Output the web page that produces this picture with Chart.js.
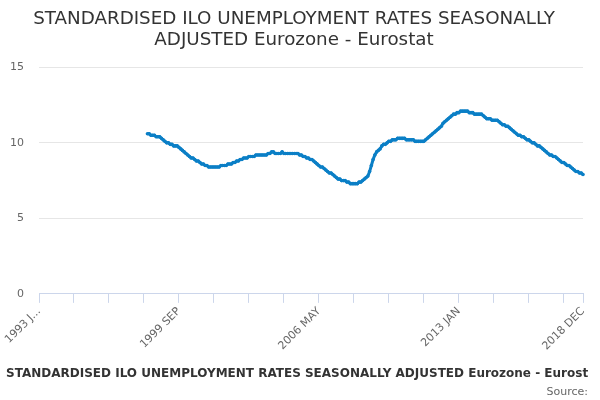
<!DOCTYPE html>
<html>
<head>
<meta charset="utf-8">
<script src="https://cdn.jsdelivr.net/npm/chart.js@4"></script>
<style>
  body { margin: 0; background: #fff; }
  canvas { display: block; }
</style>
</head>
<body>
<canvas id="chart" width="600" height="400"></canvas>
<script>
const monthNames = ['JAN', 'FEB', 'MAR', 'APR', 'MAY', 'JUN', 'JUL', 'AUG', 'SEP', 'OCT', 'NOV', 'DEC'];
const firstYear = 1993;
const lastYear = 2018;
const seriesStart = '1998 MAR';
const labelEvery = 80;
const tickEvery = 20;

// monthly rate, 1998 MAR .. 2018 DEC
const unemployment = [
  10.6, 10.6, 10.5, 10.5, 10.5, 10.4, 10.4, 10.4, 10.3, 10.2,
  10.1, 10.0, 10.0, 9.9, 9.9, 9.8, 9.8, 9.8, 9.7, 9.6, 9.5, 9.4,
  9.3, 9.2, 9.1, 9.0, 9.0, 8.9, 8.8, 8.8, 8.7, 8.6, 8.6, 8.5,
  8.5, 8.4, 8.4, 8.4, 8.4, 8.4, 8.4, 8.4, 8.5, 8.5, 8.5, 8.5,
  8.6, 8.6, 8.6, 8.7, 8.7, 8.8, 8.8, 8.9, 8.9, 9.0, 9.0, 9.0,
  9.1, 9.1, 9.1, 9.1, 9.2, 9.2, 9.2, 9.2, 9.2, 9.2, 9.2, 9.3,
  9.3, 9.4, 9.4, 9.3, 9.3, 9.3, 9.3, 9.4, 9.3, 9.3, 9.3, 9.3,
  9.3, 9.3, 9.3, 9.3, 9.3, 9.2, 9.2, 9.1, 9.1, 9.0, 9.0, 8.9,
  8.9, 8.8, 8.7, 8.6, 8.5, 8.4, 8.4, 8.3, 8.2, 8.1, 8.0, 8.0,
  7.9, 7.8, 7.7, 7.6, 7.6, 7.5, 7.5, 7.5, 7.4, 7.4, 7.3, 7.3,
  7.3, 7.3, 7.3, 7.4, 7.4, 7.5, 7.6, 7.7, 7.8, 8.1, 8.5, 8.9,
  9.2, 9.4, 9.5, 9.6, 9.8, 9.9, 9.9, 10.0, 10.1, 10.1, 10.2, 10.2,
  10.2, 10.3, 10.3, 10.3, 10.3, 10.3, 10.2, 10.2, 10.2, 10.2, 10.2, 10.1,
  10.1, 10.1, 10.1, 10.1, 10.1, 10.2, 10.3, 10.4, 10.5, 10.6, 10.7, 10.8,
  10.9, 11.0, 11.1, 11.3, 11.4, 11.5, 11.6, 11.7, 11.8, 11.9, 11.9, 12.0,
  12.0, 12.1, 12.1, 12.1, 12.1, 12.1, 12.0, 12.0, 12.0, 11.9, 11.9, 11.9,
  11.9, 11.9, 11.8, 11.7, 11.6, 11.6, 11.6, 11.5, 11.5, 11.5, 11.5, 11.4,
  11.3, 11.2, 11.2, 11.1, 11.1, 11.0, 10.9, 10.8, 10.7, 10.6, 10.5, 10.5,
  10.4, 10.4, 10.3, 10.2, 10.2, 10.1, 10.0, 10.0, 9.9, 9.8, 9.8, 9.7,
  9.6, 9.5, 9.4, 9.3, 9.2, 9.2, 9.1, 9.1, 9.0, 8.9, 8.8, 8.7,
  8.7, 8.6, 8.5, 8.5, 8.4, 8.3, 8.2, 8.1, 8.1, 8.0, 8.0, 7.9
];

const months = [];
for (let y = firstYear; y <= lastYear; y++) {
  monthNames.forEach(m => months.push(y + ' ' + m));
}
const startAt = months.indexOf(seriesStart);
const values = months.map((m, i) => i < startAt ? null : unemployment[i - startAt]);

const seriesName = 'STANDARDISED ILO UNEMPLOYMENT RATES SEASONALLY ADJUSTED Eurozone - Eurostat';
const lineColor = '#0b7fc6';
const axisColor = '#ccd6eb';
const font = 'DejaVu Sans, sans-serif';

new Chart(document.getElementById('chart'), {
  type: 'line',
  data: {
    labels: months,
    datasets: [{
      label: seriesName,
      data: values,
      borderColor: lineColor,
      backgroundColor: lineColor,
      borderWidth: 3,
      pointRadius: 1.8,
      pointBorderWidth: 0,
      tension: 0
    }]
  },
  options: {
    responsive: false,
    animation: false,
    layout: { padding: { left: 0, right: 12, bottom: 0 } },
    plugins: {
      title: {
        display: true,
        text: ['STANDARDISED ILO UNEMPLOYMENT RATES SEASONALLY', 'ADJUSTED Eurozone - Eurostat'],
        color: '#333',
        font: { family: font, size: 18.3, weight: 'normal', lineHeight: 1.13 },
        padding: { top: 9, bottom: 17 }
      },
      subtitle: {
        display: true,
        position: 'bottom',
        align: 'end',
        text: 'Source:',
        color: '#666',
        font: { family: font, size: 11, weight: 'normal' },
        padding: { top: -4, bottom: 1 }
      },
      legend: {
        position: 'bottom',
        labels: {
          color: '#333',
          font: { family: font, size: 12, weight: 'bold' },
          usePointStyle: true,
          pointStyle: 'line',
          pointStyleWidth: 14,
          boxHeight: 12,
          padding: 8
        }
      },
      tooltip: { enabled: false }
    },
    scales: {
      x: {
        afterBuildTicks: scale => {
          const ticks = [];
          for (let i = 0; i < months.length; i += tickEvery) ticks.push({ value: i });
          ticks.push({ value: months.length - 1 });
          scale.ticks = ticks;
        },
        afterFit: scale => {
          scale.paddingLeft = 0;
          scale.paddingRight = 17;
          scale.height += 5;
        },
        ticks: {
          autoSkip: false,
          minRotation: 45,
          maxRotation: 45,
          color: '#666',
          font: { family: font, size: 11 },
          padding: 2,
          callback: function(value) {
            const label = this.getLabelForValue(value);
            if (value === 0) return label.slice(0, 6) + '...';
            if (value % labelEvery === 0 || value === months.length - 1) return label;
            return '';
          }
        },
        grid: { drawOnChartArea: false, color: axisColor, tickLength: 9 },
        border: { color: axisColor }
      },
      y: {
        min: 0,
        max: 15,
        afterFit: scale => { scale.width = 39; },
        ticks: {
          stepSize: 5,
          color: '#666',
          font: { family: font, size: 11 },
          padding: 15
        },
        grid: { color: '#e6e6e6', drawTicks: false },
        border: { display: false }
      }
    }
  }
});
</script>
</body>
</html>
